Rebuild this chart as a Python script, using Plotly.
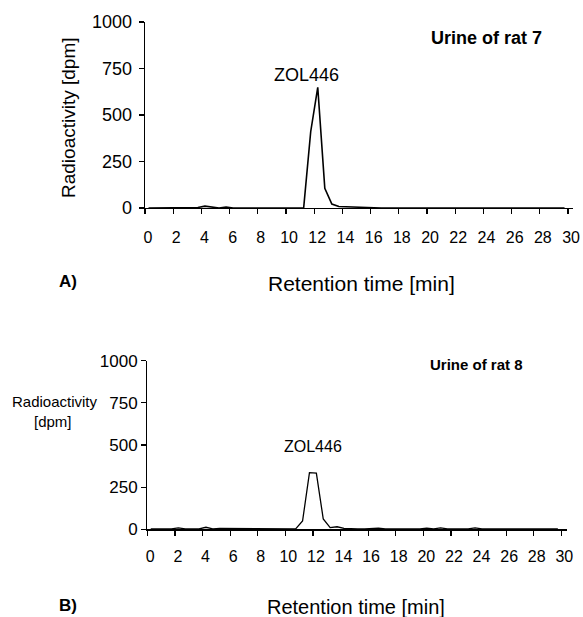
import plotly.graph_objects as go

# Retention time (min), fraction midpoints
time_min = [0.25, 0.75, 1.25, 1.75, 2.25, 2.75, 3.25, 3.75, 4.25, 4.75,
            5.25, 5.75, 6.25, 6.75, 7.25, 7.75, 8.25, 8.75, 9.25, 9.75,
            10.25, 10.75, 11.25, 11.75, 12.25, 12.75, 13.25, 13.75, 14.25, 14.75,
            15.25, 15.75, 16.25, 16.75, 17.25, 17.75, 18.25, 18.75, 19.25, 19.75,
            20.25, 20.75, 21.25, 21.75, 22.25, 22.75, 23.25, 23.75, 24.25, 24.75,
            25.25, 25.75, 26.25, 26.75, 27.25, 27.75, 28.25, 28.75, 29.25, 29.75]

# Radioactivity (dpm) - urine of rat 7
rat7_dpm = [0, 0, 0, 0, 0, 0, 0, 3, 10, 4,
            0, 5, 0, 0, 0, 0, 0, 0, 0, 0,
            0, 0, 0, 410, 649, 106, 21, 8, 6, 5,
            4, 0, 0, 0, 0, 0, 0, 0, 0, 0,
            4, 0, 0, 0, 0, 0, 0, 0, 0, 0,
            0, 0, 0, 0, 0, 4, 0, 0, 0, 0]

# Radioactivity (dpm) - urine of rat 8
rat8_dpm = [2, 2, 2, 2, 8, 2, 2, 2, 12, 3,
            6, 6, 2, 2, 5, 2, 2, 2, 6, 2,
            2, 2, 49, 336, 333, 61, 10, 15, 5, 2,
            2, 2, 5, 7, 2, 2, 2, 2, 2, 2,
            7, 2, 8, 2, 2, 2, 2, 8, 2, 2,
            2, 2, 2, 2, 2, 2, 2, 2, 2, 2]

x_ticks = [0, 2, 4, 6, 8, 10, 12, 14, 16, 18, 20, 22, 24, 26, 28, 30]
y_ticks = [0, 250, 500, 750, 1000]

W, H = 583, 617
FONT = "Liberation Sans, Arial, sans-serif"


def px(x):
    return x / W


def py(y):
    return 1 - y / H


fig = go.Figure()
fig.add_trace(go.Scatter(x=time_min, y=rat7_dpm, mode="lines",
                         line=dict(color="black", width=1.6),
                         xaxis="x", yaxis="y", showlegend=False))
fig.add_trace(go.Scatter(x=time_min, y=rat8_dpm, mode="lines",
                         line=dict(color="black", width=1.3),
                         xaxis="x2", yaxis="y2", showlegend=False))

common_x = dict(tickmode="array", tickvals=x_ticks, ticktext=[str(v) for v in x_ticks],
                showline=True, linecolor="black", linewidth=1.3, ticks="outside",
                ticklen=5, tickcolor="black", tickwidth=1.2, showgrid=False,
                zeroline=False, fixedrange=True, automargin=False)
common_y = dict(tickmode="array", tickvals=y_ticks, ticktext=[str(v) for v in y_ticks],
                range=[0, 1000], showline=True, linecolor="black", linewidth=1.3,
                ticks="outside", ticklen=5, tickcolor="black", tickwidth=1.2,
                showgrid=False, zeroline=False, fixedrange=True, automargin=False)

fig.update_layout(
    width=W, height=H, autosize=False,
    margin=dict(l=0, r=0, t=0, b=0, pad=0, autoexpand=False),
    paper_bgcolor="white", plot_bgcolor="white",
    font=dict(family=FONT, color="black"),
    xaxis=dict(domain=[px(145), px(573)], range=[0, 30.35], anchor="y",
               tickfont=dict(size=16, family=FONT), ticklabelstandoff=9,
               ticklabelshift=3, **common_x),
    yaxis=dict(domain=[py(208), py(22)], anchor="x",
               tickfont=dict(size=18, family=FONT), ticklabelstandoff=3, **common_y),
    xaxis2=dict(domain=[px(147.3), px(566.7)], range=[0, 30.39], anchor="y2",
                tickfont=dict(size=16, family=FONT), ticklabelstandoff=7,
                ticklabelshift=3, **common_x),
    yaxis2=dict(domain=[py(529.3), py(360.7)], anchor="x2",
                tickfont=dict(size=17, family=FONT), ticklabelstandoff=0, **common_y),
)

ann = [
    dict(text="Radioactivity [dpm]", x=69, y=118, size=19, angle=-90),
    dict(text="ZOL446", x=306.7, y=75, size=18),
    dict(text="<b>Urine of rat 7</b>", x=486, y=37.5, size=18),
    dict(text="<b>A)</b>", x=67.5, y=281, size=17),
    dict(text="Retention time [min]", x=361, y=283, size=21),
    dict(text="Radioactivity", x=55, y=401.7, size=15),
    dict(text="[dpm]", x=53, y=421.7, size=15),
    dict(text="ZOL446", x=313, y=446.5, size=16),
    dict(text="<b>Urine of rat 8</b>", x=476.7, y=364, size=15),
    dict(text="<b>B)</b>", x=67.5, y=605, size=17),
    dict(text="Retention time [min]", x=356, y=607, size=20),
]
for a in ann:
    fig.add_annotation(text=a["text"], x=px(a["x"]), y=py(a["y"]), xref="paper", yref="paper",
                       xanchor="center", yanchor="middle", showarrow=False,
                       textangle=a.get("angle", 0),
                       font=dict(size=a["size"], family=FONT, color="black"))

fig.write_html("out.html", config={"displayModeBar": False, "staticPlot": True},
               post_script="document.body.style.margin='0';document.body.style.overflow='hidden';")
